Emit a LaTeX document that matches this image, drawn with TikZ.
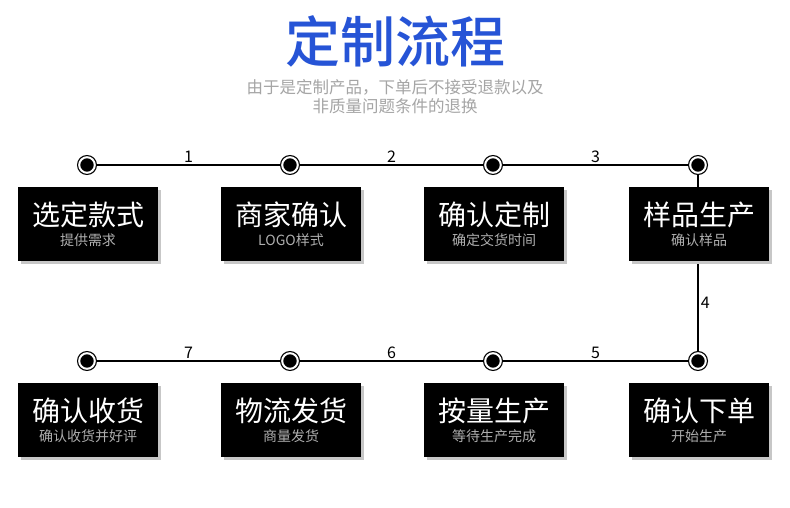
\documentclass[tikz,border=0pt]{standalone}
\usepackage{fontspec}
\setmainfont{Noto Sans CJK SC}
\newfontfamily\ttlfont{Noto Sans CJK SC Medium}
\usetikzlibrary{positioning, shadows, backgrounds}
\definecolor{ttl}{RGB}{38, 84, 214}
\definecolor{note}{RGB}{165, 165, 165}
\definecolor{subtxt}{RGB}{175, 175, 175}

\begin{document}
\begin{tikzpicture}[
    x=1pt, y=-1pt,
    stepbox/.style={rectangle, fill=black, minimum width=140pt, minimum height=74pt,
      inner sep=0pt, align=center, text=white,
      drop shadow={shadow xshift=3pt, shadow yshift=-3pt, fill=black!22, opacity=1}},
    dot/.style={circle, draw=black, double=white, double distance=2pt, line width=1.2pt,
      fill=black, minimum size=15.6pt, inner sep=0pt},
    lbl/.style={font=\fontsize{16}{16}\selectfont, inner sep=2pt},
    link/.style={line width=1.5pt}
  ]
  \useasboundingbox (0,0) rectangle (790,508);
  % heading
  \node[text=ttl, font=\fontsize{55}{58}\selectfont\ttlfont] (title) at (395,41) {定制流程};
  \node[text=note, align=center, font=\fontsize{16.5}{19}\selectfont] (notice) at (395,97)
    {由于是定制产品，下单后不接受退款以及\\非质量问题条件的退换};
  % markers and boxes
  \foreach \n/\x/\y/\main/\sub in {
      1/87/165/选定款式/提供需求, 2/290/165/商家确认/LOGO样式,
      3/493/165/确认定制/确定交货时间, 4/698/165/样品生产/确认样品,
      5/698/361/确认下单/开始生产, 6/493/361/按量生产/等待生产完成,
      7/290/361/物流发货/商量发货, 8/87/361/确认收货/确认收货并好评} {
    \node[dot] (m\n) at (\x,\y) {};
    \node[stepbox] (b\n) at (\x+1,\y+59)
      {{\fontsize{28}{30}\selectfont\main}\\[5pt]{\color{subtxt}\fontsize{14}{16}\selectfont\sub}};
  }
  \begin{scope}[on background layer]
    \fill[white] (0,0) rectangle (790,508);
    \draw[link] (m1) -- node[lbl, above] {1} (m2);
    \draw[link] (m2) -- node[lbl, above] {2} (m3);
    \draw[link] (m3) -- node[lbl, above] {3} (m4);
    \draw[link] (m4) -- node[lbl, right, pos=0.72] {4} (m5);
    \draw[link] (m5) -- node[lbl, above] {5} (m6);
    \draw[link] (m6) -- node[lbl, above] {6} (m7);
    \draw[link] (m7) -- node[lbl, above] {7} (m8);
  \end{scope}
\end{tikzpicture}
\end{document}
